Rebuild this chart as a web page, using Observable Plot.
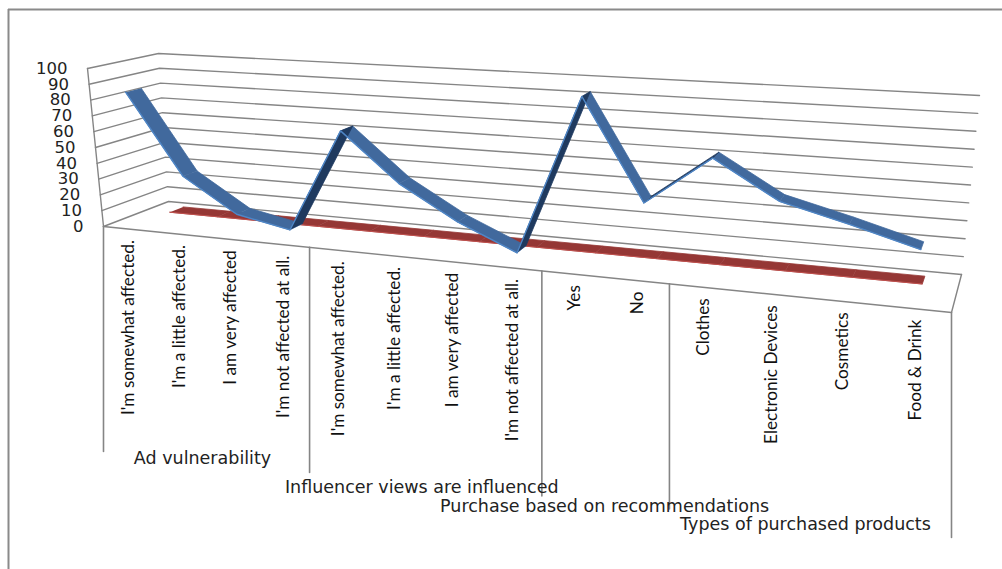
<!DOCTYPE html>
<html><head><meta charset="utf-8">
<script src="https://cdn.jsdelivr.net/npm/d3@7"></script>
<script src="https://cdn.jsdelivr.net/npm/@observablehq/plot@0.6"></script>
<style>html,body{margin:0;padding:0;background:#fff}svg{display:block}</style>
</head><body><div id="chart"></div>
<script>
const categories = ["I'm somewhat affected.","I'm a little affected.","I am very affected","I'm not affected at all.","I'm somewhat affected.","I'm a little affected.","I am very affected","I'm not affected at all.","Yes","No","Clothes","Electronic Devices","Cosmetics","Food & Drink"];
const blueValues = [84.5,33.8,13,6.5,69.5,40.5,20.8,6,99,41,69,48,38.7,28.5];
const redValues = [0,0,0,0,0,0,0,0,0,0,0,0,0,0];
const groupNames = ["Ad vulnerability","Influencer views are influenced","Purchase based on recommendations","Types of purchased products"];
const groupEnds = [0,4,8,10,14];
const yTicks = [0,10,20,30,40,50,60,70,80,90,100];

// Perspective box of the 3-D chart: corners of the floor and of the top plane.
const box = {
  f0:[103,226], f1:[951,312], f0t:[87,68], f1t:[970,121],
  b0:[168,201], b1:[961,274], b0t:[158,53], b1t:[979,95]
};
const n = categories.length, persp = 1.246;
const warp = u => u/(u+persp*(1-u));
const mix = (a,b,t) => [a[0]+(b[0]-a[0])*t, a[1]+(b[1]-a[1])*t];
function proj(u,v,d){
  const p = warp(u), h = v/100;
  return mix(
    mix(mix(box.f0,box.f1,p), mix(box.f0t,box.f1t,p), h),
    mix(mix(box.b0,box.b1,p), mix(box.b0t,box.b1t,p), h), d);
}
const pt = (u,v,d,z) => { const [x,y]=proj(u,v,d); return {x,y,z}; };
const uOf = i => (i+.5)/n;

// gridlines: front-left -> back-left -> back-right for every tick
const grid = yTicks.flatMap(v => [pt(0,v,0,v),pt(0,v,1,v),pt(1,v,1,v)]);
const leftEdge = [pt(0,0,0,"a"),pt(0,100,0,"a")];
const floor = [pt(0,0,0,"f"),pt(1,0,0,"f"),pt(1,0,1,"f")];

const tickLen = 225, titleDrop = [221,228,229,226], titleShift = [-4,-4,-1,-5];
const dividers = groupEnds.flatMap(e => { const s=pt(e/n,0,0,e); return [s,{x:s.x,y:s.y+tickLen,z:e}]; });
const catLabels = categories.map((t,i)=>{ const s=pt(uOf(i),0,0); return {x:s.x+1,y:s.y+11,t}; });
const groupLabels = groupNames.map((t,i)=>{
  const a=pt(groupEnds[i]/n,0,0), b=pt(groupEnds[i+1]/n,0,0);
  return {x:(a.x+b.x)/2+titleShift[i],y:(a.y+b.y)/2+titleDrop[i],t};
});
const tickLabels = yTicks.map(v=>{ const s=pt(0,v,0); return {x:s.x-20,y:s.y,t:String(v)}; });

function ribbon(vals,d0,d1){
  const segs=[];
  for(let i=0;i<vals.length-1;i++){
    const a=uOf(i),b=uOf(i+1);
    segs.push({rise:vals[i+1]>vals[i],pts:[pt(a,vals[i],d0,i),pt(b,vals[i+1],d0,i),pt(b,vals[i+1],d1,i),pt(a,vals[i],d1,i)]});
  }
  return segs;
}
const blueSegs = ribbon(blueValues,.15,.38);
const blueRise = blueSegs.filter(s=>s.rise).flatMap(s=>s.pts);
const blueFall = blueSegs.filter(s=>!s.rise).flatMap(s=>s.pts);
const blueEdge = blueValues.map((v,i)=>pt(uOf(i),v,.15,"e"));
const redQuad = ribbon(redValues,.66,.87).flatMap(s=>s.pts);
const redEdge = redValues.map((v,i)=>pt(uOf(i),v,.66,"e"));

const gray="#858585", ink="#222";
const chart = Plot.plot({
  width:1002,height:569,margin:0,
  x:{domain:[0,1002],range:[0,1002],axis:null},
  y:{domain:[0,569],range:[0,569],axis:null},
  style:{background:"#fff"},
  marks:[
    Plot.ruleX([8],{y1:9,y2:569,stroke:"#8a8a8a",strokeWidth:2}),
    Plot.ruleY([9],{x1:8,x2:1002,stroke:"#8a8a8a",strokeWidth:2}),
    Plot.line(grid,{x:"x",y:"y",z:"z",stroke:gray,strokeWidth:1.4}),
    Plot.line(leftEdge,{x:"x",y:"y",z:"z",stroke:gray,strokeWidth:1.4}),
    Plot.line(floor,{x:"x",y:"y",z:"z",stroke:gray,strokeWidth:1.4}),
    Plot.line(dividers,{x:"x",y:"y",z:"z",stroke:gray,strokeWidth:1.6}),
    Plot.line(redQuad,{x:"x",y:"y",z:"z",fill:"#953735",stroke:"#953735",strokeWidth:.8}),
    Plot.line(redEdge,{x:"x",y:"y",z:"z",stroke:"#c0504d",strokeWidth:1}),
    Plot.line(blueFall,{x:"x",y:"y",z:"z",fill:"#41699d",stroke:"#41699d",strokeWidth:.8}),
    Plot.line(blueRise,{x:"x",y:"y",z:"z",fill:"#1f3a5f",stroke:"#1f3a5f",strokeWidth:.8}),
    Plot.line(blueEdge,{x:"x",y:"y",z:"z",stroke:"#4f86c6",strokeWidth:1.4}),
    Plot.text(catLabels,{x:"x",y:"y",text:"t",rotate:-90,textAnchor:"end",fontSize:17.2,fontFamily:"Lato",fill:"#111"}),
    Plot.text(groupLabels,{x:"x",y:"y",text:"t",fontSize:17.5,fontFamily:"DejaVu Sans",fill:ink}),
    Plot.text(tickLabels,{x:"x",y:"y",text:"t",textAnchor:"end",fontSize:16.5,fontFamily:"DejaVu Sans",fill:ink})
  ]
});
document.getElementById("chart").append(chart);
</script></body></html>
